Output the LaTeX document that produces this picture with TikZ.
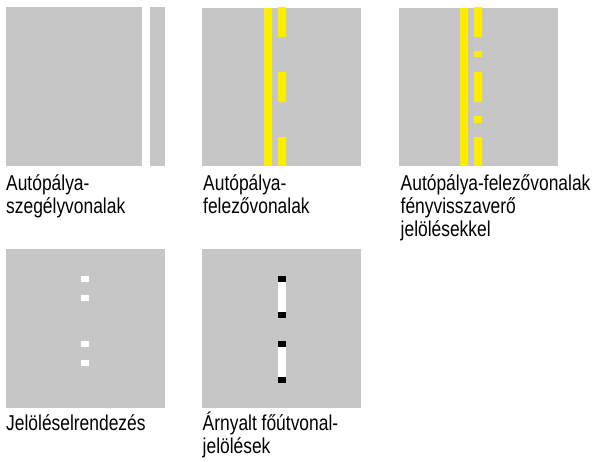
\documentclass[tikz,border=0pt]{standalone}
\usepackage{fontspec}
\setmainfont{Liberation Sans}[FakeStretch=0.81]
\usepackage{tikz}
\usetikzlibrary{positioning}

\definecolor{roadgray}{HTML}{C6C6C6}
\definecolor{markyellow}{HTML}{FFED00}

\begin{document}
\begin{tikzpicture}[x=1pt,y=-1pt]

\tikzset{
  caption/.style={anchor=base west, inner sep=0pt, align=left,
                  font=\fontsize{21.5}{23}\selectfont},
  road/.style={fill=roadgray},
  yellowmark/.style={fill=markyellow},
  whitemark/.style={fill=white},
  blackmark/.style={fill=black}
}

\useasboundingbox (0,0) rectangle (593,461);

% Edge lines
\fill[road] (6,7) rectangle (142,166);
\fill[road] (150,7) rectangle (165,166);
\node[caption] (edge) at (6,213) {Autópálya-\\szegélyvonalak};

% Centre lines
\fill[road] (202,8) rectangle (361,166);
\fill[yellowmark] (263.7,8) rectangle (272,166);
\foreach \ya/\yb in {7/37, 72/101.7, 137/166}
  \fill[yellowmark] (277.7,\ya) rectangle (286,\yb);
\node[caption] (centre) at (203,213) {Autópálya-\\felezővonalak};

% Centre lines with reflectors
\fill[road] (399,8) rectangle (557.7,166);
\fill[yellowmark] (460,8) rectangle (468,166);
\foreach \ya/\yb in {7/37, 50.7/57.3, 72/101.7, 115.7/122.7, 137/166}
  \fill[yellowmark] (474,\ya) rectangle (482,\yb);
\node[caption] (reflect) at (400.5,236) {Autópálya-felezővonalak\\fényvisszaverő\\jelölésekkel};

% Marking pattern
\fill[road] (6,249) rectangle (165,407.7);
\foreach \ya in {276.3, 295.3, 341.3, 360.3}
  \fill[whitemark] (81,\ya) rectangle ++(8,5.4);
\node[caption] (pattern) at (6,430) {Jelöléselrendezés};

% Shaded main road markings
\fill[road] (202,249) rectangle (361,407.7);
\foreach \ya in {276, 341} {
  \fill[blackmark] (278,\ya) rectangle ++(8,6);
  \fill[whitemark] (278,\ya+6) rectangle ++(8,30);
  \fill[blackmark] (278,\ya+36) rectangle ++(8,6);
}
\node[caption] (shaded) at (202.5,453) {Árnyalt főútvonal-\\jelölések};

\end{tikzpicture}
\end{document}
